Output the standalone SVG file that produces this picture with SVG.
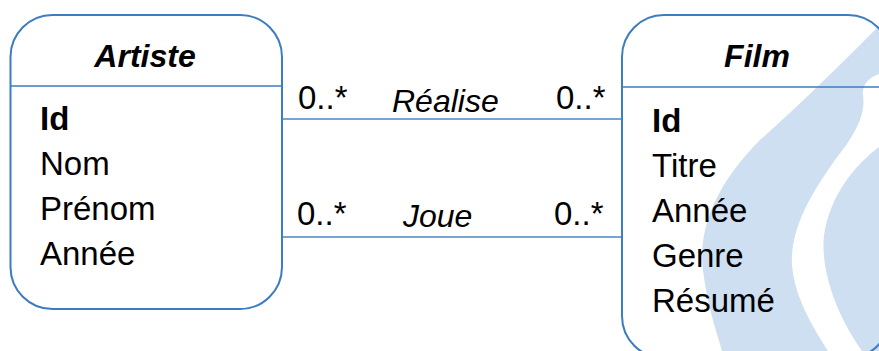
<svg xmlns="http://www.w3.org/2000/svg" width="879" height="351" viewBox="0 0 879 351">
<style>
.box{fill:none;stroke:#3c7cc0;stroke-width:2}
.sep{stroke:#3c7cc0;stroke-width:1.5}
.conn{stroke:#4a86c5;stroke-width:1.5;fill:none}
.wm{fill:#cddff0}
text{font-family:"Liberation Sans",Arial,sans-serif;font-size:33px;fill:#000}
.hdr{font-weight:bold;font-style:italic;text-anchor:middle;font-size:32px}
.key{font-weight:bold}
.rel{font-style:italic;font-size:32px}
</style>
<rect width="879" height="351" fill="#fff"/>
<g id="watermark">
<path class="wm" d="M879,26 C850,55 800,105 760,140 C715,185 698,230 703,270 C708,310 718,335 722,351 L828,351 C815,330 795,300 792,265 C790,230 810,195 835,160 C855,135 866,115 863,95 C862,85 868,78 879,74 Z"/>
<path class="wm" d="M879,147 C855,165 830,195 824,235 C820,275 840,320 862,351 L879,351 Z"/>
</g>
<g id="connectors">
<g id="realise">
<line class="conn" x1="282" y1="119" x2="622" y2="119"/>
<text x="298" y="109">0..*</text>
<text class="rel" x="392" y="112">Réalise</text>
<text x="556" y="109">0..*</text>
</g>
<g id="joue">
<line class="conn" x1="282" y1="237" x2="622" y2="237"/>
<text x="297" y="225">0..*</text>
<text class="rel" x="403" y="227">Joue</text>
<text x="554" y="225">0..*</text>
</g>
</g>
<g id="artiste">
<rect class="box" x="10.5" y="15" width="271.5" height="294" rx="42" ry="42"/>
<line class="sep" x1="10.5" y1="86" x2="282" y2="86"/>
<text class="hdr" x="145" y="67">Artiste</text>
<text class="key" x="40" y="130">Id</text>
<text x="40" y="175">Nom</text>
<text x="40" y="220">Prénom</text>
<text x="40" y="265">Année</text>
</g>
<g id="film">
<rect class="box" x="622" y="15" width="268" height="343" rx="42" ry="42"/>
<line class="sep" x1="622" y1="87" x2="879" y2="87"/>
<text class="hdr" x="757" y="67">Film</text>
<text class="key" x="652" y="132">Id</text>
<text x="652" y="177">Titre</text>
<text x="652" y="222">Année</text>
<text x="652" y="267">Genre</text>
<text x="652" y="312">Résumé</text>
</g>
</svg>
